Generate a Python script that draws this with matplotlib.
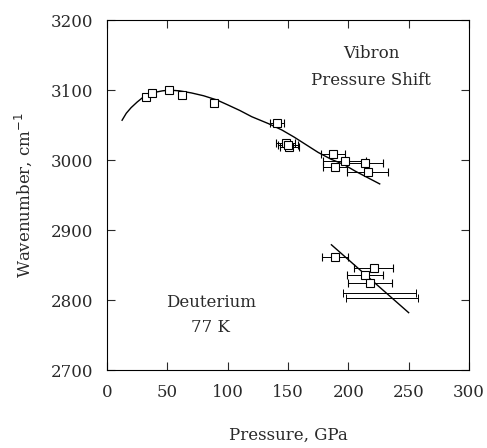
import matplotlib
matplotlib.use("Agg")
import matplotlib.pyplot as plt

# upper branch (vibron, low density phase)
p_up = [32, 37, 51.5, 62, 89, 141, 148, 151, 150, 189, 187, 197, 213.5, 216]
w_up = [3090, 3096, 3100, 3093, 3081, 3053, 3024, 3019, 3021, 2990, 3009, 2999, 2996, 2983]
e_up = [0, 0, 0, 0, 0, 6, 8, 8, 8, 10, 10, 18, 15, 17]

# lower branch
p_lo = [189, 221, 214, 218]
w_lo = [2861, 2846, 2836, 2824]
e_lo = [11, 16, 15, 18]

# bars with no visible symbol
p_bar = [226, 228]
w_bar = [2810, 2803]
e_bar = [30, 30]

# fitted curves
fit_up_p = [12.5, 16, 20, 25, 30, 35, 40, 46, 52, 60, 70, 80, 91, 100, 110, 120, 127, 134,
            145, 155, 165, 175, 186, 196, 206, 216, 226]
fit_up_w = [3057, 3067, 3075, 3083, 3090, 3094, 3097, 3099, 3100, 3099, 3096, 3092, 3086,
            3079, 3071, 3062, 3057, 3052, 3043, 3033, 3022, 3011, 3001, 2994, 2984, 2975, 2966]
fit_lo_p = [186, 250]
fit_lo_w = [2879, 2782]

plt.rcParams['font.family'] = ['DejaVu Serif']
txt = '#2a2a2a'

fig = plt.figure(figsize=(4.87, 4.48), dpi=100)
ax = fig.add_axes([0.2197, 0.174, 0.7433, 0.781])

ax.plot(fit_up_p, fit_up_w, color='black', lw=1.0)
ax.plot(fit_lo_p, fit_lo_w, color='black', lw=1.0)

ax.errorbar(p_up, w_up, xerr=e_up, fmt='s', mfc='white', mec='black', mew=0.8, ms=5.5,
            ecolor='black', elinewidth=0.7, capsize=3, capthick=0.7)
ax.errorbar(p_lo, w_lo, xerr=e_lo, fmt='s', mfc='white', mec='black', mew=0.8, ms=5.5,
            ecolor='black', elinewidth=0.7, capsize=3, capthick=0.7)
ax.errorbar(p_bar, w_bar, xerr=e_bar, fmt='none', ecolor='black', elinewidth=0.7,
            capsize=3, capthick=0.7)

ax.set_xlim(0, 300)
ax.set_ylim(2700, 3200)
ax.set_xticks(range(0, 301, 50))
ax.set_yticks(range(2700, 3201, 100))
ax.tick_params(direction='in', top=True, right=True, length=6, width=0.8,
               labelsize=12, pad=10, colors=txt)
for s in ax.spines.values():
    s.set_linewidth(0.8)

ax.set_xlabel('Pressure, GPa', fontsize=12, labelpad=19, color=txt)
ax.set_ylabel('Wavenumber, cm$^{-1}$', fontsize=12, labelpad=12, color=txt)

ax.text(219, 3153, 'Vibron', ha='center', va='center', fontsize=12, color=txt)
ax.text(219, 3114, 'Pressure Shift', ha='center', va='center', fontsize=12, color=txt)
ax.text(86, 2797, 'Deuterium', ha='center', va='center', fontsize=12, color=txt)
ax.text(86, 2761, '77 K', ha='center', va='center', fontsize=12, color=txt)

fig.savefig('out.png', dpi=100)
